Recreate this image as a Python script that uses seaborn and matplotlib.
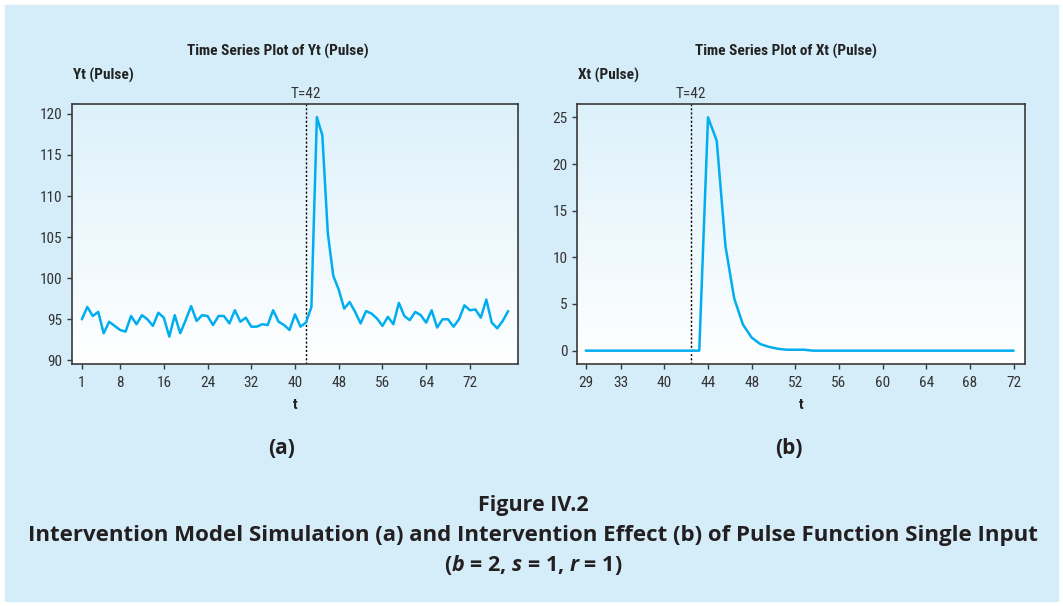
import numpy as np
import pandas as pd
import seaborn as sns
import matplotlib.pyplot as plt
from matplotlib.colors import LinearSegmentedColormap

# (a) simulated series Yt, t = 1..79
yt_values = [
    95.0, 96.5, 95.4, 95.9, 93.3, 94.7, 94.2, 93.7, 93.5, 95.4,
    94.4, 95.5, 95.0, 94.2, 95.8, 95.2, 92.9, 95.5, 93.3, 94.9,
    96.6, 94.8, 95.5, 95.4, 94.3, 95.4, 95.4, 94.5, 96.1, 94.7,
    95.2, 94.1, 94.1, 94.4, 94.3, 96.1, 94.7, 94.3, 93.7, 95.6,
    94.1, 94.6, 96.5, 119.6, 117.4, 105.5, 100.3, 98.6, 96.3, 97.1,
    95.9, 94.5, 96.0, 95.7, 95.1, 94.2, 95.3, 94.4, 97.0, 95.4,
    94.9, 95.9, 95.5, 94.6, 96.1, 94.0, 95.0, 95.0, 94.1, 95.0,
    96.7, 96.1, 96.2, 95.2, 97.4, 94.6, 93.9, 94.8, 96.0,
]
yt_t = list(range(1, len(yt_values) + 1))
yt_ticks = [1, 8, 16, 24, 32, 40, 48, 56, 64, 72]
yt_yticks = [90, 95, 100, 105, 110, 115, 120]

# (b) intervention effect Xt, plotted by observation index
xt_values = [
    0, 0, 0, 0, 0, 0, 0, 0, 0, 0,
    0, 0, 0, 0, 25.0, 22.5, 11.2, 5.6, 2.8, 1.4,
    0.7, 0.4, 0.2, 0.1, 0.1, 0.1, 0, 0, 0, 0,
    0, 0, 0, 0, 0, 0, 0, 0, 0, 0,
    0, 0, 0, 0, 0, 0, 0, 0, 0, 0,
]
xt_idx = list(range(len(xt_values)))
xt_tick_pos = [0, 4, 9, 14, 19, 24, 29, 34, 39, 44, 49]
xt_tick_labels = ["29", "33", "40", "44", "48", "52", "56", "60", "64", "68", "72"]
xt_yticks = [0, 5, 10, 15, 20, 25]

intervention_a = 42
intervention_b = 12

df_a = pd.DataFrame({"t": yt_t, "Yt": yt_values})
df_b = pd.DataFrame({"t": xt_idx, "Xt": xt_values})

sns.set_style("ticks")
narrow = ["Liberation Sans Narrow", "Roboto Condensed", "Roboto", "DejaVu Sans"]
plt.rcParams["font.family"] = narrow
plt.rcParams["mathtext.fontset"] = "custom"
plt.rcParams["mathtext.it"] = "Open Sans:style=italic:weight=bold"
plt.rcParams["mathtext.rm"] = "Open Sans:weight=bold"

BG = "#d5ecf9"
LINE = "#00aeef"
W, H = 1063, 606

fig = plt.figure(figsize=(W / 100, H / 100), dpi=100, facecolor="white")
fig.patches.append(plt.Rectangle((5 / W, 5 / H), 1 - 10 / W, 1 - 10 / H,
                                 transform=fig.transFigure, color=BG, zorder=-1))

ax_a = fig.add_axes([72 / W, 1 - 364 / H, 446 / W, 260 / H])
ax_b = fig.add_axes([577 / W, 1 - 364 / H, 448 / W, 260 / H])

grad = LinearSegmentedColormap.from_list("face", ["#ddf1fb", "#ffffff"])


def style_axes(ax):
    ax.imshow(np.linspace(0, 1, 256).reshape(-1, 1), cmap=grad, aspect="auto",
              extent=[0, 1, 0, 1], transform=ax.transAxes, zorder=0)
    for side in ["left", "right", "top", "bottom"]:
        ax.spines[side].set_color("#3a3a3a")
        ax.spines[side].set_linewidth(1.2)
    ax.tick_params(axis="both", direction="out", length=3.8, width=1,
                   color="#3a3a3a", labelsize=11, labelcolor="#333333", pad=3)
    ax.tick_params(axis="x", pad=4.5)
    ax.set_ylabel("")
    ax.set_xlabel("t", fontsize=11, fontweight="bold", color="#222222", labelpad=6)


sns.lineplot(data=df_a, x="t", y="Yt", ax=ax_a, color=LINE, lw=1.8, zorder=3)
style_axes(ax_a)
ax_a.axvline(intervention_a, color="black", ls=(0, (1.5, 1.5)), lw=1, zorder=2)
ax_a.set_xlim(-0.8, 80.8)
ax_a.set_ylim(89.56, 121.2)
ax_a.set_xticks(yt_ticks)
ax_a.set_yticks(yt_yticks)
ax_a.annotate(f"T={intervention_a}", xy=(intervention_a, 1), xycoords=("data", "axes fraction"),
              xytext=(0, 2.5), textcoords="offset points", ha="center", va="bottom",
              fontsize=11, color="#333333")

sns.lineplot(data=df_b, x="t", y="Xt", ax=ax_b, color=LINE, lw=1.8, zorder=3)
style_axes(ax_b)
ax_b.axvline(intervention_b, color="black", ls=(0, (1.5, 1.5)), lw=1, zorder=2)
ax_b.set_xlim(-1.0, 50.3)
ax_b.set_ylim(-1.43, 26.43)
ax_b.set_xticks(xt_tick_pos)
ax_b.set_xticklabels(xt_tick_labels)
ax_b.set_yticks(xt_yticks)
ax_b.annotate("T=42", xy=(intervention_b, 1), xycoords=("data", "axes fraction"),
              xytext=(0, 2.5), textcoords="offset points", ha="center", va="bottom",
              fontsize=11, color="#333333")

# titles and y labels
fig.text(278 / W, 1 - 51 / H, "Time Series Plot of Yt (Pulse)", ha="center", va="center",
         fontsize=11, fontweight="bold", color="#222222")
fig.text(786 / W, 1 - 51 / H, "Time Series Plot of Xt (Pulse)", ha="center", va="center",
         fontsize=11, fontweight="bold", color="#222222")
fig.text(73 / W, 1 - 75 / H, "Yt (Pulse)", ha="left", va="center",
         fontsize=11, fontweight="bold", color="#222222")
fig.text(578 / W, 1 - 75 / H, "Xt (Pulse)", ha="left", va="center",
         fontsize=11, fontweight="bold", color="#222222")

# panel labels and caption
cap = dict(ha="center", va="center", fontweight="bold", color="#231f20", family=["Open Sans", "DejaVu Sans"])
fig.text(282 / W, 1 - 448 / H, "(a)", fontsize=15, **cap)
fig.text(789 / W, 1 - 448 / H, "(b)", fontsize=15, **cap)
fig.text(533 / W, 1 - 505 / H, "Figure IV.2", fontsize=15.5, **cap)
fig.text(533 / W, 1 - 536 / H,
         "Intervention Model Simulation (a) and Intervention Effect (b) of Pulse Function Single Input",
         fontsize=16, **cap)
fig.text(533 / W, 1 - 565 / H, r"($\mathit{b}$ = 2, $\mathit{s}$ = 1, $\mathit{r}$ = 1)",
         fontsize=15.5, **cap)

fig.savefig("out.png", dpi=100, facecolor=fig.get_facecolor())
